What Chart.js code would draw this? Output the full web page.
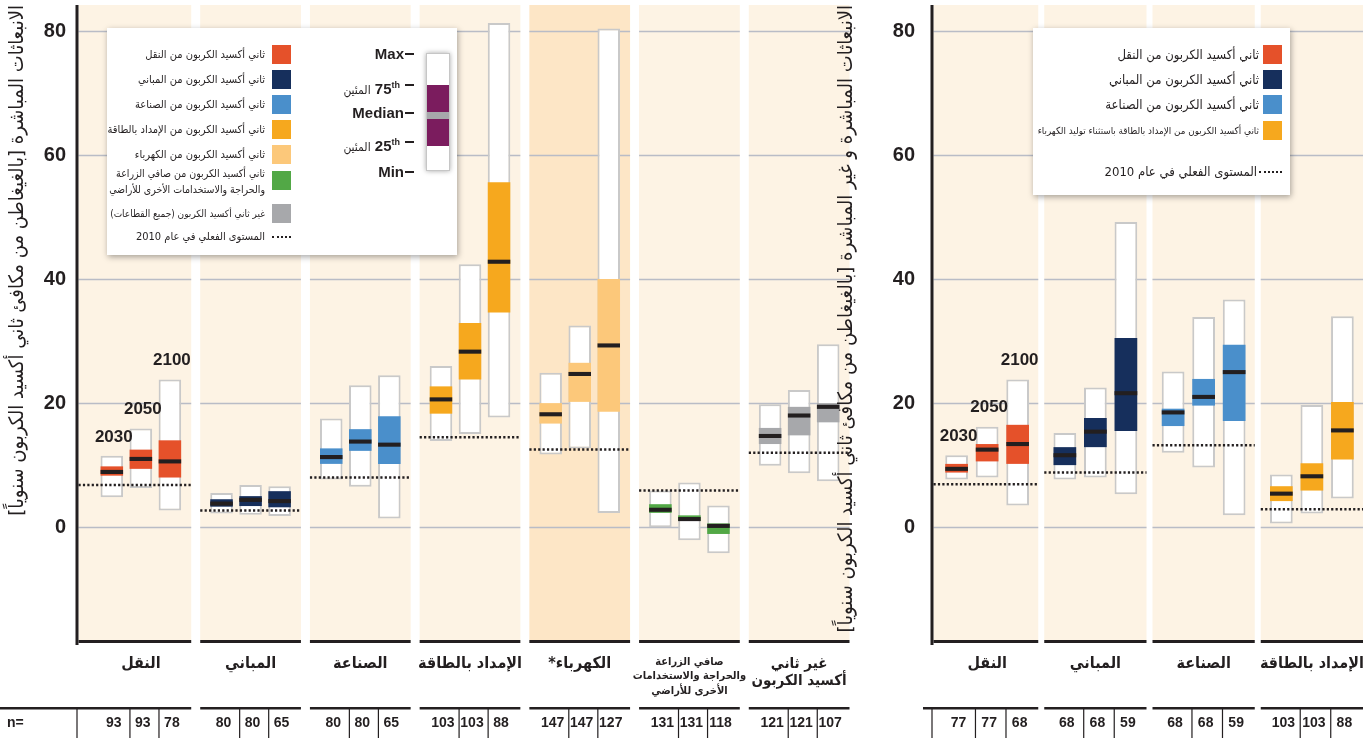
<!DOCTYPE html>
<html lang="ar">
<head>
<meta charset="utf-8">
<script src="https://cdn.jsdelivr.net/npm/chart.js@4.4.1/dist/chart.umd.min.js"></script>
<style>
html,body{margin:0;padding:0;background:#fff;}
#wrap{position:relative;width:1372px;height:738px;overflow:hidden;font-family:"Liberation Sans","DejaVu Sans",sans-serif;color:#231f20;}
canvas{position:absolute;top:0;}
.lg{position:absolute;background:#fff;box-shadow:1px 2px 6px rgba(0,0,0,.35);z-index:3;}
.sw{position:absolute;width:19px;height:19px;}
.tx{position:absolute;white-space:nowrap;direction:rtl;text-align:right;font-family:"DejaVu Sans Condensed","DejaVu Sans",sans-serif;}
.dot{position:absolute;height:0;border-top:2.5px dotted #231f20;}
.lab{position:absolute;white-space:nowrap;font-weight:bold;font-size:15px;line-height:18px;text-align:right;direction:ltr;}
.dash{position:absolute;width:9px;height:2px;background:#231f20;}
.pc{font-weight:normal;font-size:12px;font-family:"DejaVu Sans Condensed","DejaVu Sans",sans-serif;}
</style>
</head>
<body>
<div id="wrap">
  <canvas id="leftChart" width="860" height="738" style="left:0" dir="rtl"></canvas>
  <canvas id="rightChart" width="542" height="738" style="left:830px" dir="rtl"></canvas>

  <div class="lg" style="left:107px;top:28px;width:350px;height:227px">
    <div class="sw" style="left:165px;top:17px;background:#e5512a"></div>
    <div class="tx" style="right:192px;top:17px;font-size:11px;line-height:19px">ثاني أكسيد الكربون من النقل</div>
    <div class="sw" style="left:165px;top:42px;background:#162f5c"></div>
    <div class="tx" style="right:192px;top:42px;font-size:11px;line-height:19px">ثاني أكسيد الكربون من المباني</div>
    <div class="sw" style="left:165px;top:67px;background:#4a8fcb"></div>
    <div class="tx" style="right:192px;top:67px;font-size:11px;line-height:19px">ثاني أكسيد الكربون من الصناعة</div>
    <div class="sw" style="left:165px;top:92px;background:#f6a81e"></div>
    <div class="tx" style="right:192px;top:92px;font-size:11px;line-height:19px">ثاني أكسيد الكربون من الإمداد بالطاقة</div>
    <div class="sw" style="left:165px;top:117px;background:#fcc87a"></div>
    <div class="tx" style="right:192px;top:117px;font-size:11px;line-height:19px">ثاني أكسيد الكربون من الكهرباء</div>
    <div class="sw" style="left:165px;top:143px;background:#52a846"></div>
    <div class="tx" style="right:192px;top:137px;font-size:10.5px;line-height:16px">ثاني أكسيد الكربون من صافي الزراعة<br>والحراجة والاستخدامات الأخرى للأراضي</div>
    <div class="sw" style="left:165px;top:176px;background:#a7a8ab"></div>
    <div class="tx" style="right:192px;top:176px;font-size:10px;line-height:19px">غير ثاني أكسيد الكربون (جميع القطاعات)</div>
    <div class="dot" style="left:165px;top:208px;width:19px"></div>
    <div class="tx" style="right:192px;top:199px;font-size:11px;line-height:19px">المستوى الفعلي في عام 2010</div>

    <div style="position:absolute;left:319px;top:25px;width:22px;height:116px;background:#fff;border:1px solid #c6c6c6;box-shadow:0 0 5px rgba(0,0,0,.35)">
      <div style="position:absolute;left:0;top:31px;width:22px;height:61px;background:#7b1c5e"></div>
      <div style="position:absolute;left:0;top:58px;width:22px;height:7px;background:#a7a8ab"></div>
    </div>
    <div class="lab" style="right:53px;top:17px">Max</div>
    <div class="dash" style="left:298px;top:25px"></div>
    <div class="lab" style="right:57px;top:48px"><span class="pc">المئين</span> &lrm;75<sup style="font-size:9px">th</sup></div>
    <div class="dash" style="left:298px;top:56px"></div>
    <div class="lab" style="right:53px;top:76px">Median</div>
    <div class="dash" style="left:298px;top:84px"></div>
    <div class="lab" style="right:57px;top:105px"><span class="pc">المئين</span> &lrm;25<sup style="font-size:9px">th</sup></div>
    <div class="dash" style="left:298px;top:113px"></div>
    <div class="lab" style="right:53px;top:135px">Min</div>
    <div class="dash" style="left:298px;top:143px"></div>
  </div>

  <div class="lg" style="left:1033px;top:28px;width:257px;height:167px">
    <div class="sw" style="left:230px;top:17px;background:#e5512a"></div>
    <div class="tx" style="right:31px;top:17px;font-size:13px;line-height:19px">ثاني أكسيد الكربون من النقل</div>
    <div class="sw" style="left:230px;top:42px;background:#162f5c"></div>
    <div class="tx" style="right:31px;top:42px;font-size:13px;line-height:19px">ثاني أكسيد الكربون من المباني</div>
    <div class="sw" style="left:230px;top:67px;background:#4a8fcb"></div>
    <div class="tx" style="right:31px;top:67px;font-size:13px;line-height:19px">ثاني أكسيد الكربون من الصناعة</div>
    <div class="sw" style="left:230px;top:93px;background:#f6a81e"></div>
    <div class="tx" style="right:31px;top:93px;font-size:9.8px;line-height:19px">ثاني أكسيد الكربون من الإمداد بالطاقة باستثناء توليد الكهرباء</div>
    <div class="dot" style="left:226px;top:143px;width:23px"></div>
    <div class="tx" style="right:33px;top:134px;font-size:13px;line-height:19px">المستوى الفعلي في عام 2010</div>
  </div>
</div>

<script>
// ---------- data: left panel (direct emissions) ----------
const leftCategories = ['النقل', 'المباني', 'الصناعة', 'الإمداد بالطاقة', 'الكهرباء*',
  ['صافي الزراعة', 'والحراجة والاستخدامات', 'الأخرى للأراضي'], ['غير ثاني', 'أكسيد الكربون']];
const leftMin2030 = [4.8, 2.2, 7.7, 13.9, 11.7, 0.0, 9.9];
const leftQ1_2030 = [8.3, 3.3, 10.2, 18.3, 16.7, 2.3, 13.4];
const leftMed2030 = [8.9, 3.8, 11.3, 20.6, 18.2, 2.8, 14.7];
const leftQ3_2030 = [9.8, 4.5, 12.7, 22.7, 20.0, 3.7, 16.0];
const leftMax2030 = [11.5, 5.5, 17.5, 26.0, 24.9, 5.9, 19.8];
const leftMin2050 = [6.3, 2.0, 6.5, 15.0, 12.7, -2.1, 8.7];
const leftQ1_2050 = [9.4, 3.4, 12.3, 23.8, 20.2, 1.0, 14.8];
const leftMed2050 = [11.0, 4.4, 13.8, 28.3, 24.7, 1.3, 18.0];
const leftQ3_2050 = [12.5, 5.0, 15.8, 32.9, 26.5, 1.9, 19.4];
const leftMax2050 = [15.9, 6.8, 22.9, 42.4, 32.5, 7.2, 22.1];
const leftMin2100 = [2.7, 1.8, 1.4, 17.7, 2.3, -4.2, 7.4];
const leftQ1_2100 = [8.0, 3.2, 10.2, 34.6, 18.6, -1.1, 16.9];
const leftMed2100 = [10.6, 4.2, 13.3, 42.8, 29.3, 0.2, 19.4];
const leftQ3_2100 = [14.0, 5.8, 17.9, 55.6, 40.0, 0.6, 20.0];
const leftMax2100 = [23.8, 6.6, 24.5, 81.3, 80.4, 3.5, 29.5];
const leftActual2010 = [6.8, 2.7, 8.0, 14.5, 12.5, 5.9, 12.0];
const leftN = [[93, 93, 78], [80, 80, 65], [80, 80, 65], [103, 103, 88], [147, 147, 127], [131, 131, 118], [121, 121, 107]];
const leftColors = ['#e5512a', '#162f5c', '#4a8fcb', '#f6a81e', '#fcc87a', '#52a846', '#a7a8ab'];
const leftPanels = ['#fdf3e4', '#fdf3e4', '#fdf3e4', '#fdf3e4', '#fde6c6', '#fdf3e4', '#fdf3e4'];

// ---------- data: right panel (direct + indirect emissions) ----------
const rightCategories = ['النقل', 'المباني', 'الصناعة', 'الإمداد بالطاقة'];
const rightMin2030 = [7.7, 7.7, 12.0, 0.6];
const rightQ1_2030 = [8.8, 10.0, 16.3, 4.2];
const rightMed2030 = [9.4, 11.6, 18.5, 5.4];
const rightQ3_2030 = [10.2, 12.9, 19.1, 6.6];
const rightMax2030 = [11.6, 15.2, 25.1, 8.5];
const rightMin2050 = [8.0, 8.0, 9.6, 2.2];
const rightQ1_2050 = [10.6, 12.9, 19.6, 5.9];
const rightMed2050 = [12.5, 15.4, 21.0, 8.2];
const rightQ3_2050 = [13.4, 17.6, 23.9, 10.3];
const rightMax2050 = [16.2, 22.5, 33.9, 19.7];
const rightMin2100 = [3.5, 5.3, 1.9, 4.6];
const rightQ1_2100 = [10.2, 15.5, 17.1, 10.9];
const rightMed2100 = [13.4, 21.6, 25.0, 15.6];
const rightQ3_2100 = [16.5, 30.5, 29.4, 20.2];
const rightMax2100 = [23.8, 49.2, 36.7, 34.0];
const rightActual2010 = [6.9, 8.8, 13.2, 2.9];
const rightN = [[77, 77, 68], [68, 68, 59], [68, 68, 59], [103, 103, 88]];
const rightColors = ['#e5512a', '#162f5c', '#4a8fcb', '#f6a81e'];
const rightPanels = ['#fdf3e4', '#fdf3e4', '#fdf3e4', '#fdf3e4'];

const years = ['2030', '2050', '2100'];
const yTicks = [0, 20, 40, 60, 80];
const ink = '#231f20';
const numFont = '"Liberation Sans", Arial, sans-serif';
const arFont = '"DejaVu Sans Condensed", "DejaVu Sans", sans-serif';

// three floating bars per year: median line, interquartile box, min-max box
function boxSets(year, mins, q1s, meds, q3s, maxs, colors, catPct, barPct) {
  const common = {stack: year, categoryPercentage: catPct, barPercentage: barPct, borderSkipped: false};
  return [
    Object.assign({label: year + ' median', order: 1, data: meds.map(m => [m - 0.33, m + 0.33]),
      backgroundColor: ink, borderWidth: 0}, common),
    Object.assign({label: year + ' iqr', order: 2, data: q1s.map((v, i) => [v, q3s[i]]),
      backgroundColor: colors, borderWidth: 0}, common),
    Object.assign({label: year + ' range', order: 3, data: mins.map((v, i) => [v, maxs[i]]),
      backgroundColor: '#ffffff', borderColor: '#c9c9c9', borderWidth: 2}, common)
  ];
}

function panelEdges(chart, i, o) {
  const x = chart.scales.x;
  const w = x.getPixelForValue(1) - x.getPixelForValue(0);
  const c = x.getPixelForValue(i);
  let l = c - w / 2 + o.gap / 2, r = c + w / 2 - o.gap / 2;
  if (i === 0) l = o.axisX + 1.5;
  return [l, r];
}

const panelPlugin = {
  id: 'panels',
  beforeDraw(chart, args, o) {
    const {ctx, chartArea: a, scales: {y}} = chart;
    ctx.save();
    chart.data.labels.forEach((lab, i) => {
      const [l, r] = panelEdges(chart, i, o);
      ctx.fillStyle = o.panels[i];
      ctx.fillRect(l, a.top, r - l, a.bottom - a.top);
      ctx.strokeStyle = '#b9bcc6';
      ctx.lineWidth = 1.3;
      yTicks.forEach(v => {
        const py = Math.round(y.getPixelForValue(v)) + 0.5;
        ctx.beginPath(); ctx.moveTo(l, py); ctx.lineTo(r, py); ctx.stroke();
      });
    });
    ctx.restore();
  },
  afterDatasetsDraw(chart, args, o) {
    const {ctx, scales: {y}} = chart;
    ctx.save();
    ctx.strokeStyle = ink;
    ctx.lineWidth = 2.5;
    ctx.setLineDash([2.2, 2.2]);
    o.actual.forEach((v, i) => {
      const [l, r] = panelEdges(chart, i, o);
      const py = y.getPixelForValue(v);
      ctx.beginPath(); ctx.moveTo(l, py); ctx.lineTo(r, py); ctx.stroke();
    });
    ctx.setLineDash([]);
    // year labels above the first group
    ctx.direction = 'ltr';
    ctx.fillStyle = ink;
    ctx.font = 'bold 17px ' + numFont;
    ctx.textAlign = 'center';
    ctx.textBaseline = 'middle';
    years.forEach((yr, j) => {
      const bar = chart.getDatasetMeta(j * 3).data[0];
      const top = y.getPixelForValue(o.yearTops[j]);
      ctx.fillText(yr, bar.x + 2, top - 19);
    });
    ctx.restore();
  },
  afterDraw(chart, args, o) {
    const {ctx, chartArea: a} = chart;
    ctx.save();
    ctx.direction = 'ltr';
    ctx.fillStyle = ink;
    ctx.fillRect(o.axisX - 1.5, a.top, 3, 645 - a.top);
    ctx.fillRect(o.axisX - 0.6, 709, 1.2, 29);
    ctx.font = 'bold 14px ' + numFont;
    ctx.textAlign = 'center';
    ctx.textBaseline = 'middle';
    chart.data.labels.forEach((lab, i) => {
      const [l, r] = panelEdges(chart, i, o);
      ctx.fillRect(l, 640, r - l, 3);
      const rs = i === 0 ? o.rowStart : l;
      ctx.fillRect(rs, 707, r - rs, 2.5);
      const xs = years.map((yr, j) => chart.getDatasetMeta(j * 3).data[i].x);
      xs.forEach((bx, j) => {
        ctx.fillText(String(o.n[i][j]), bx + 2, 723);
        if (j < 2) ctx.fillRect((bx + xs[j + 1]) / 2 + 3, 709, 1.2, 29);
      });
    });
    if (o.showN) {
      ctx.textAlign = 'left';
      ctx.fillText('n=', 7, 723);
    }
    ctx.restore();
  }
};

function buildChart(id, p) {
  const datasets = [].concat(
    boxSets('2030', p.min[0], p.q1[0], p.med[0], p.q3[0], p.max[0], p.colors, p.catPct, p.barPct),
    boxSets('2050', p.min[1], p.q1[1], p.med[1], p.q3[1], p.max[1], p.colors, p.catPct, p.barPct),
    boxSets('2100', p.min[2], p.q1[2], p.med[2], p.q3[2], p.max[2], p.colors, p.catPct, p.barPct)
  );
  return new Chart(document.getElementById(id), {
    type: 'bar',
    data: {labels: p.labels, datasets: datasets},
    options: {
      responsive: false,
      animation: false,
      layout: {padding: {top: 5, right: p.padRight, left: 0, bottom: 0}},
      plugins: {
        legend: {display: false},
        tooltip: {enabled: false},
        panels: {
          panels: p.panels, gap: p.gap, axisX: p.axisX, actual: p.actual, n: p.n,
          yearTops: [p.max[0][0], p.max[1][0], p.max[2][0]],
          rowStart: p.rowStart, showN: p.showN
        }
      },
      scales: {
        x: {
          grid: {display: false, drawTicks: false},
          border: {display: false},
          ticks: {
            padding: 15, color: ink, autoSkip: false, maxRotation: 0, minRotation: 0,
            font: c => c.index === 5 ? {family: arFont, size: 11, weight: 'bold', lineHeight: 1.3}
                   : c.index === 6 ? {family: arFont, size: 15, weight: 'bold', lineHeight: 1.15}
                                   : {family: arFont, size: 16, weight: 'bold', lineHeight: 1.15}
          },
          afterFit: s => { s.height = 98; s.paddingLeft = 0; s.paddingRight = 0; }
        },
        y: {
          stacked: false,
          min: -18.2, max: 84.2,
          grid: {display: false, drawTicks: false},
          border: {display: false},
          afterBuildTicks: s => { s.ticks = yTicks.map(v => ({value: v})); },
          ticks: {padding: p.tickPad, color: ink, font: {family: numFont, size: 20, weight: 'bold'}},
          title: {
            display: true, text: p.title, align: 'end', color: ink,
            font: {family: arFont, size: 20, lineHeight: 1.2}, padding: {top: p.titlePad, bottom: 0}
          },
          afterFit: s => { s.width = p.axisWidth; s.paddingTop = 0; s.paddingBottom = 0; }
        }
      }
    },
    plugins: [panelPlugin]
  });
}

buildChart('leftChart', {
  labels: leftCategories, colors: leftColors, panels: leftPanels, actual: leftActual2010, n: leftN,
  min: [leftMin2030, leftMin2050, leftMin2100], q1: [leftQ1_2030, leftQ1_2050, leftQ1_2100],
  med: [leftMed2030, leftMed2050, leftMed2100], q3: [leftQ3_2030, leftQ3_2050, leftQ3_2100],
  max: [leftMax2030, leftMax2050, leftMax2100],
  title: 'الانبعاثات المباشرة [بالغيغاطن من مكافئ ثاني أكسيد الكربون سنوياً]',
  catPct: 0.794, barPct: 0.776, padRight: 6, axisWidth: 86, axisX: 77, tickPad: 20, titlePad: 6,
  gap: 9, rowStart: 0, showN: true
});

buildChart('rightChart', {
  labels: rightCategories, colors: rightColors, panels: rightPanels, actual: rightActual2010, n: rightN,
  min: [rightMin2030, rightMin2050, rightMin2100], q1: [rightQ1_2030, rightQ1_2050, rightQ1_2100],
  med: [rightMed2030, rightMed2050, rightMed2100], q3: [rightQ3_2030, rightQ3_2050, rightQ3_2100],
  max: [rightMax2030, rightMax2050, rightMax2100],
  title: 'الانبعاثات المباشرة و غير المباشرة [بالغيغاطن من مكافئ ثاني أكسيد الكربون سنوياً]',
  catPct: 0.846, barPct: 0.744, padRight: 6, axisWidth: 103, axisX: 102, tickPad: 18, titlePad: 5,
  gap: 6, rowStart: 93, showN: false
});
</script>
</body>
</html>
